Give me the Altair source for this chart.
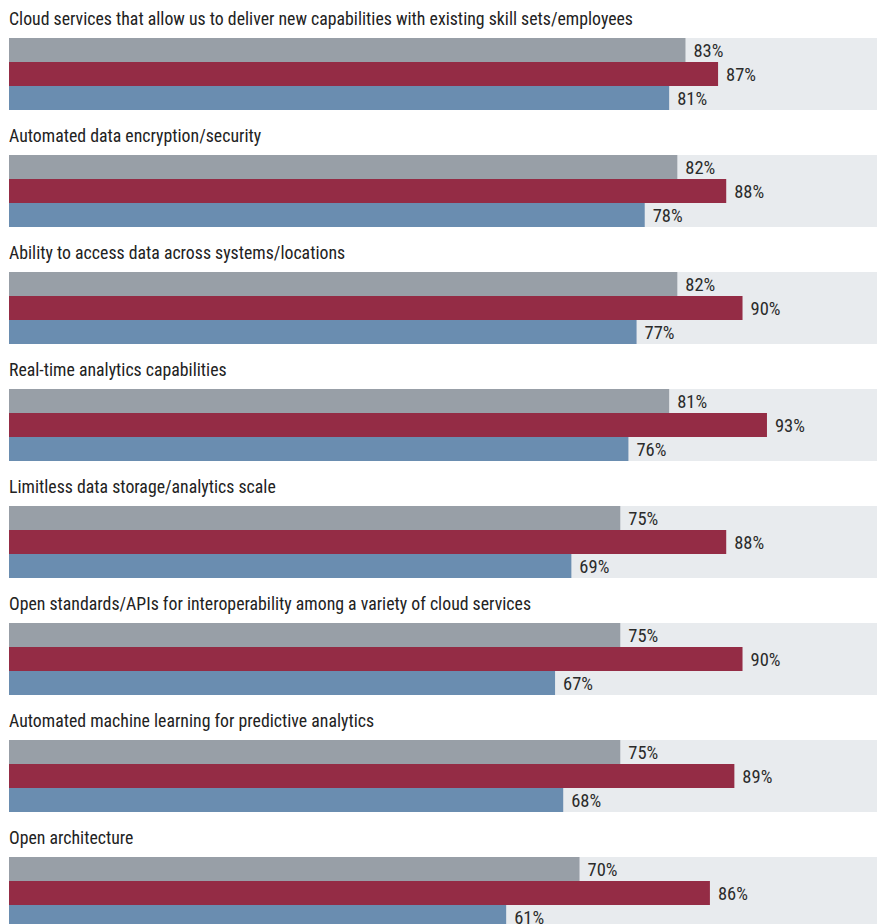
import altair as alt
import pandas as pd

categories = [
    "Cloud services that allow us to deliver new capabilities with existing skill sets/employees",
    "Automated data encryption/security",
    "Ability to access data across systems/locations",
    "Real-time analytics capabilities",
    "Limitless data storage/analytics scale",
    "Open standards/APIs for interoperability among a variety of cloud services",
    "Automated machine learning for predictive analytics",
    "Open architecture",
]
series = ["Series A", "Series B", "Series C"]
values_a = [83, 82, 82, 81, 75, 75, 75, 70]
values_b = [87, 88, 90, 93, 88, 90, 89, 86]
values_c = [81, 78, 77, 76, 69, 67, 68, 61]
colors = ["#989fa7", "#942c45", "#6a8db0"]

rows = []
for i, cat in enumerate(categories):
    for s, vals in zip(series, [values_a, values_b, values_c]):
        rows.append({"category": cat, "series": s, "value": vals[i],
                     "label": f"{vals[i]}%"})
df = pd.DataFrame(rows)

FONT = "Liberation Sans Narrow, Arial Narrow, Roboto Condensed, Noto Sans Condensed, DejaVu Sans Condensed, sans-serif"

x = alt.X("value:Q", scale=alt.Scale(domain=[0, 106.5], nice=False, zero=True), axis=None)
y = alt.Y("series:N", sort=series, axis=None,
          scale=alt.Scale(paddingInner=0, paddingOuter=0))

bars = alt.Chart().mark_bar().encode(
    x=x, y=y,
    color=alt.Color("series:N", sort=series,
                    scale=alt.Scale(domain=series, range=colors), legend=None),
)
labels = alt.Chart().mark_text(align="left", baseline="middle", dx=8, dy=1,
                               fontSize=18.5, font=FONT, color="#2b2b2b").encode(
    x=x, y=y, text="label:N")

chart = alt.layer(bars, labels, data=df).properties(width=868, height=72).facet(
    facet=alt.Facet("category:N", sort=categories,
                    header=alt.Header(title=None, labelAnchor="start", labelAlign="left",
                                      labelFontSize=17.8, labelFont=FONT,
                                      labelColor="#222222", labelPadding=9)),
    columns=1, spacing=18,
).properties(
    padding={"left": 9, "top": 11, "right": 0, "bottom": 5}
).configure_view(fill="#e8ebee", strokeWidth=0)

chart.save("out.html", embed_options={"renderer": "svg", "actions": False})
